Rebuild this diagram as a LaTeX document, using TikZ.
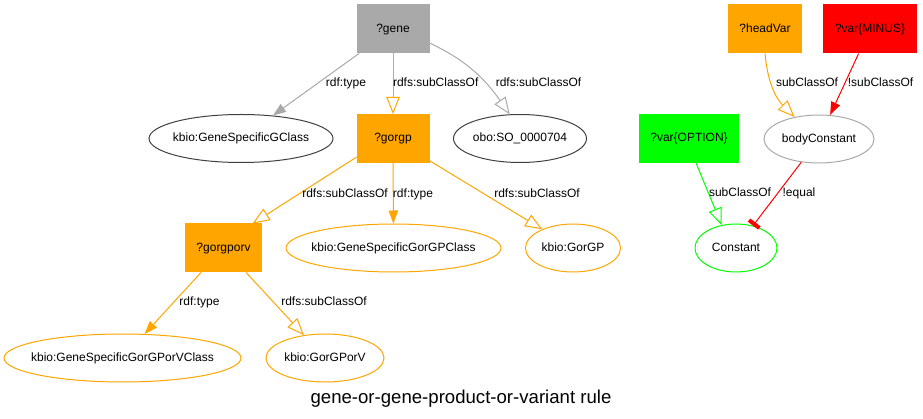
\documentclass[tikz,border=0pt]{standalone}
\usepackage{fontspec}
\setmainfont{Liberation Sans}

\definecolor{v-gray}{RGB}{169,169,169}
\definecolor{v-orange}{RGB}{255,165,0}
\definecolor{v-red}{RGB}{255,0,0}
\definecolor{v-green}{RGB}{0,255,0}
\definecolor{oval-dark}{RGB}{64,64,64}
\usetikzlibrary{
  shapes.geometric,   % ellipse nodes
  arrows.meta         % open / filled / bar tips
}
\tikzset{
  every node/.style = {
    font=\fontsize{12}{14}\selectfont,
    text height=8.6pt,
    text depth=2.5pt,
    inner sep=0pt
  },
  varbox/.style = {rectangle, draw, line width=1pt, minimum height=48pt,
    minimum width=72pt, inner xsep=11pt},
  termoval/.style = {ellipse, draw, line width=1pt, minimum height=48pt,
    inner xsep=-20pt},
  lbl/.style = {anchor=base},
  gray-v/.append style = {fill=v-gray, draw=v-gray},
  orange-v/.append style = {fill=v-orange, draw=v-orange},
  red-v/.append style = {fill=v-red, draw=v-red},
  green-v/.append style = {fill=v-green, draw=v-green},
  typeedge/.style = {-{Triangle[length=13pt,width=9.5pt]}, line width=1pt},
  subedge/.style = {-{Triangle[open,length=17pt,width=13.5pt]}, line width=1pt},
  negedge/.style = {-{Rectangle[length=4pt,width=13pt]}, line width=1pt}
}

\begin{document}
\begin{tikzpicture}[x=1pt, y=-1pt]
\useasboundingbox (0,0) rectangle (923,419);

% variables
\node[varbox, gray-v] (gene) at (393,29) {?gene};
\node[varbox, orange-v] (gorgp) at (393,138.5) {?gorgp};
\node[varbox, orange-v] (gorgporv) at (223.5,248) {?gorgporv};
\node[varbox, orange-v] (headvar) at (765,29) {?headVar};
\node[varbox, red-v] (minus) at (870,29) {?var\{MINUS\}};
\node[varbox, green-v] (option) at (689,138.5) {?var\{OPTION\}};

% terms
\node[termoval, draw=oval-dark, minimum width=184pt] (gclass) at (241,138.5) {kbio:GeneSpecificGClass};
\node[termoval, draw=oval-dark, minimum width=133pt] (obo) at (520,138.5) {obo:SO\_0000704};
\node[termoval, draw=v-orange, minimum width=215pt] (gpclass) at (393.5,248) {kbio:GeneSpecificGorGPClass};
\node[termoval, draw=v-orange, minimum width=95pt] (gorgpterm) at (573,248) {kbio:GorGP};
\node[termoval, draw=v-orange, minimum width=237pt] (gpvclass) at (122.5,358) {kbio:GeneSpecificGorGPorVClass};
\node[termoval, draw=v-orange, minimum width=118pt] (gpvterm) at (325,358) {kbio:GorGPorV};
\node[termoval, draw=v-gray, minimum width=110pt] (bodyconst) at (819,139) {bodyConstant};
\node[termoval, draw=v-green, minimum width=82pt] (const) at (736,248) {Constant};

% edges
\draw[typeedge, v-gray] (gene) -- (gclass);
\draw[subedge, v-orange] (gene) -- (gorgp);
\draw[subedge, v-gray] (gene.-21) to[out=-25, in=125] (obo.113);
\draw[subedge, v-orange] (gorgp.207) -- (gorgporv.40);
\draw[typeedge, v-orange] (gorgp) -- (gpclass);
\draw[subedge, v-orange] (gorgp) -- (gorgpterm);
\draw[typeedge, v-orange] (gorgporv) -- (gpvclass);
\draw[subedge, v-orange] (gorgporv) -- (gpvterm);
\draw[subedge, v-orange] (headvar.south) to[out=-85, in=135] (bodyconst.138);
\draw[typeedge, v-red] (minus) -- (bodyconst);
\draw[subedge, v-green] (option.-74) -- (const.122);
\draw[negedge, v-red] (bodyconst) -- (const);

% edge labels
\node[lbl] (l-gene-type) at (346,87) {rdf:type};
\node[lbl] (l-gene-sub) at (435.7,87) {rdfs:subClassOf};
\node[lbl] (l-gene-obo) at (538.5,87) {rdfs:subClassOf};
\node[lbl] (l-gorgp-sub) at (345,197.5) {rdfs:subClassOf};
\node[lbl] (l-gorgp-type) at (413,197.5) {rdf:type};
\node[lbl] (l-gorgp-gp) at (537,197.5) {rdfs:subClassOf};
\node[lbl] (l-gorgporv-type) at (199.5,306) {rdf:type};
\node[lbl] (l-gorgporv-sub) at (324,306) {rdfs:subClassOf};
\node[lbl] (l-head-sub) at (807,87) {subClassOf};
\node[lbl] (l-minus-sub) at (880.5,87) {!subClassOf};
\node[lbl] (l-option-sub) at (740,197) {subClassOf};
\node[lbl] (l-equal) at (799,197) {!equal};

% title
\node[lbl, font=\fontsize{18.6}{22}\selectfont] (title) at (461,403) {gene-or-gene-product-or-variant rule};
\end{tikzpicture}
\end{document}
